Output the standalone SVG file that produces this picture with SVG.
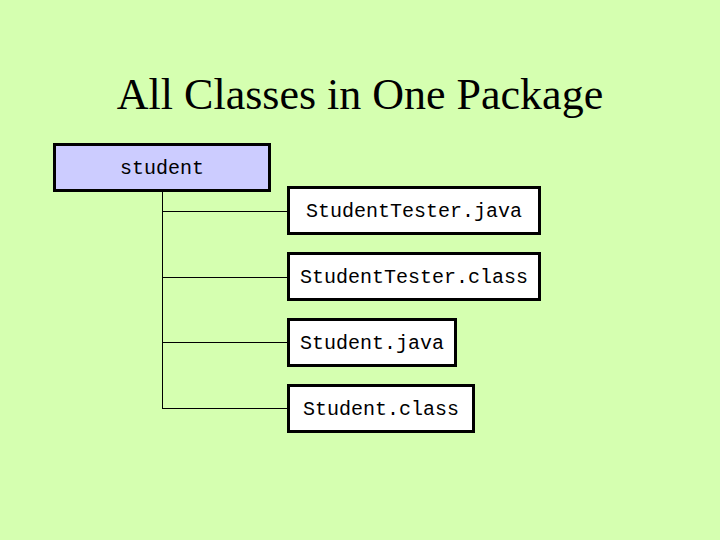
<svg xmlns="http://www.w3.org/2000/svg" width="720" height="540" viewBox="0 0 720 540">
<style>
.box{fill:#ffffff;stroke:#000;stroke-width:3}
.pkg{fill:#ccccff;stroke:#000;stroke-width:3}
.lbl{font-family:"Liberation Mono","Courier New",monospace;font-size:20px;fill:#000;text-anchor:middle}
.ln{stroke:#000;stroke-width:1;fill:none}
</style>
<rect x="0" y="0" width="720" height="540" fill="#d5ffb0"/>
<text x="360" y="109" font-family="Liberation Serif,'Times New Roman',serif" font-size="44" text-anchor="middle" fill="#000">All Classes in One Package</text>
<g id="connectors">
<path class="ln" d="M162.5 191 V408.5 M162 211.5 H288 M162 277.5 H288 M162 342.5 H288 M162 408.5 H288"/>
</g>
<g id="student">
<rect class="pkg" x="54.5" y="144.5" width="215" height="46"/>
<text class="lbl" x="162" y="174">student</text>
</g>
<g id="StudentTesterJava">
<rect class="box" x="288.5" y="187.5" width="251" height="46"/>
<text class="lbl" x="414" y="217">StudentTester.java</text>
</g>
<g id="StudentTesterClass">
<rect class="box" x="288.5" y="253.5" width="251" height="46"/>
<text class="lbl" x="414" y="283">StudentTester.class</text>
</g>
<g id="StudentJava">
<rect class="box" x="288.5" y="319.5" width="167" height="46"/>
<text class="lbl" x="372" y="349">Student.java</text>
</g>
<g id="StudentClass">
<rect class="box" x="288.5" y="385.5" width="185" height="46"/>
<text class="lbl" x="381" y="415">Student.class</text>
</g>
</svg>
